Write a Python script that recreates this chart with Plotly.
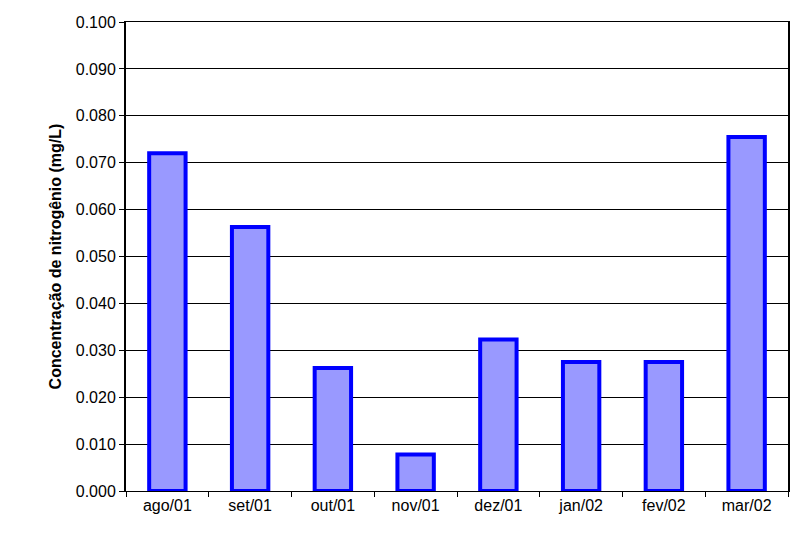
import plotly.graph_objects as go

months = ["ago/01", "set/01", "out/01", "nov/01", "dez/01", "jan/02", "fev/02", "mar/02"]
nitrogen = [0.072, 0.0563, 0.0262, 0.0078, 0.0323, 0.0275, 0.0275, 0.0755]
y_ticks = [i / 1000 for i in range(0, 101, 10)]

fig = go.Figure(go.Bar(
    x=months, y=nitrogen, width=0.44,
    marker=dict(color="#9999FF", line=dict(color="#0000FF", width=4)),
))

fig.update_layout(
    width=782, height=521,
    margin=dict(l=118, r=2, t=14, b=38),
    plot_bgcolor="white", paper_bgcolor="white",
    font=dict(family="Liberation Sans, Arial", size=16, color="black"),
    showlegend=False,
)
fig.update_xaxes(
    showline=True, linecolor="black", linewidth=1, mirror=True,
    ticks="outside", ticklen=5, tickcolor="black",
    tickson="boundaries", automargin=False,
)
fig.update_yaxes(
    range=[0, 0.1], tickvals=y_ticks, tickformat=".3f",
    showline=True, linecolor="black", linewidth=2, mirror=True,
    ticks="outside", ticklen=5, tickcolor="black",
    showgrid=True, gridcolor="black", gridwidth=1, automargin=False,
    title=dict(text="<b>Concentração de nitrogênio (mg/L)</b>", font=dict(size=16), standoff=10),
)

fig.write_html("out.html")
